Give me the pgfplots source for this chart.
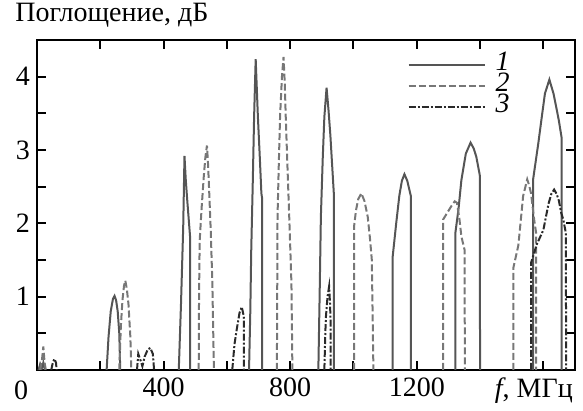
\documentclass[border=0pt]{standalone}
\usepackage{fontspec}
\setmainfont{Liberation Serif}
\usepackage{pgfplots}
\pgfplotsset{compat=1.18}
\definecolor{cone}{HTML}{555555}
\definecolor{ctwo}{HTML}{777777}
\definecolor{cthree}{HTML}{2A2A2A}

\begin{document}
\begin{tikzpicture}
\begin{axis}[
  name=main,
  scale only axis,
  width=269pt, height=165pt,
  xmin=0, xmax=1700, ymin=0, ymax=4.5,
  axis line style={line width=1pt},
  every tick/.style={black, line width=1pt},
  tick align=inside,
  major tick length=4.5pt, minor tick length=4.5pt,
  xtick={400,800,1200,1600},
  xticklabels={400,800,1200,{\hspace*{-9.5pt}\textit{f}, МГц}},
  minor xtick={200,600,1000,1400},
  ytick={1,2,3,4},
  yticklabels={1,2,3,4},
  minor ytick={0.5,1.5,2.5,3.5},
  tick label style={font=\fontsize{14}{16}\selectfont},
  xticklabel style={yshift=-0.5pt},
  legend style={draw=none, fill=none, at={(0.688,0.955)}, anchor=north west,
    font=\fontsize{14}{14}\selectfont, row sep=0.5pt, inner sep=0pt,
    nodes={inner sep=1pt, text height=6.5pt, text depth=1.5pt}},
  legend cell align=left,
  legend image code/.code={\draw[#1] (0pt,0pt) -- (38pt,0pt);},
  s1/.style={cone, line width=1pt},
  s2/.style={ctwo, line width=1pt, dash pattern=on 3.5pt off 1.5pt},
  s3/.style={cthree, line width=1pt, dash pattern=on 3.5pt off 1pt on 1pt off 1pt},
]
\addlegendimage{s1}
\addlegendentry{\hspace*{4pt}\textit{1}}
\addlegendimage{s2}
\addlegendentry{\hspace*{4pt}\textit{2}}
\addlegendimage{s3}
\addlegendentry{\hspace*{4pt}\textit{3}}

% curve 1
\addplot[s1, forget plot] coordinates {(5,0)(10,0.08)(15,0.02)(20,0.1)(25,0)};
\addplot[s1, forget plot] coordinates {(220,0)(226,0.45)(233,0.8)(240,0.97)(245,1.01)(250,0.95)(255,0.8)(260,0.5)(263,0)};
\addplot[s1, forget plot] coordinates {(448,0)(455,0.9)(462,1.95)(466,2.92)(470,2.6)(475,2.3)(484,1.8)(484,0)};
\addplot[s1, forget plot] coordinates {(670,0)(674,0.8)(677,1.64)(682,2.6)(686,3.45)(691,4.24)(698,3.45)(704,2.9)(709,2.41)(711,2.35)(711,0)};
\addplot[s1, forget plot] coordinates {(889,0)(893,1.0)(897,2.09)(903,2.9)(908,3.45)(915,3.85)(921,3.55)(927,3.2)(938,2.4)(938,0)};
\addplot[s1, forget plot] coordinates {(1124,0)(1124,1.55)(1135,2.0)(1145,2.38)(1153,2.58)(1161,2.67)(1170,2.58)(1177,2.45)(1181,2.38)(1181,0)};
\addplot[s1, forget plot] coordinates {(1322,0)(1322,1.87)(1332,2.2)(1341,2.59)(1355,2.95)(1370,3.1)(1380,3.02)(1388,2.91)(1399,2.66)(1400,0)};
\addplot[s1, forget plot] coordinates {(1568,0)(1568,2.61)(1584,3.09)(1595,3.45)(1605,3.77)(1619,3.96)(1632,3.77)(1640,3.6)(1649,3.4)(1658,3.16)(1658,0)};

% curve 2
\addplot[s2, forget plot] coordinates {(10,0)(16,0.15)(20,0.32)(24,0.1)(28,0)};
\addplot[s2, forget plot] coordinates {(260,0)(265,0.6)(270,0.95)(275,1.15)(279,1.22)(284,1.1)(289,0.9)(295,0.45)(298,0)};
\addplot[s2, forget plot] coordinates {(511,0)(512,1.0)(514,1.76)(520,2.2)(527,2.64)(532,2.9)(537,3.06)(540,2.85)(543,2.55)(549,1.9)(554,1.2)(559,0)};
\addplot[s2, forget plot] coordinates {(758,0)(759,1.0)(760,2.09)(764,2.8)(768,3.45)(774,4.0)(779,4.27)(783,3.9)(786,3.45)(792,2.7)(797,2.09)(804,1.18)(807,0)};
\addplot[s2, forget plot] coordinates {(1002,0)(1002,1.96)(1008,2.18)(1015,2.33)(1025,2.41)(1035,2.3)(1045,2.09)(1052,1.8)(1058,1.5)(1063,0)};
\addplot[s2, forget plot] coordinates {(1283,0)(1283,2.05)(1300,2.17)(1313,2.26)(1320,2.3)(1327,2.28)(1335,2.05)(1341,1.82)(1351,1.64)(1352,0)};
\addplot[s2, forget plot] coordinates {(1505,0)(1505,1.39)(1521,1.7)(1536,2.37)(1549,2.6)(1555,2.52)(1561,2.41)(1571,2.05)(1577,1.87)(1577,0)};

% curve 3
\addplot[s3, forget plot] coordinates {(45,0)(50,0.1)(55,0.15)(60,0.1)(62,0)};
\addplot[s3, forget plot] coordinates {(316,0)(320,0.22)(328,0.12)(333,0.05)(340,0.18)(350,0.28)(358,0.3)(366,0.22)(370,0)};
\addplot[s3, forget plot] coordinates {(617,0)(624,0.35)(631,0.55)(640,0.78)(647,0.86)(652,0.76)(654,0.7)(654,0)};
\addplot[s3, forget plot] coordinates {(908,0)(911,0.5)(913,0.73)(918,1.0)(923,1.14)(926,0.9)(928,0.6)(928,0)};
\addplot[s3, forget plot] coordinates {(1561,0)(1561,1.46)(1579,1.71)(1600,1.91)(1616,2.26)(1625,2.4)(1634,2.46)(1642,2.4)(1649,2.31)(1656,2.15)(1663,2.05)(1671,1.87)(1672,0)};
\end{axis}
\node[anchor=north, font=\fontsize{14}{16}\selectfont, inner sep=0pt] at ([xshift=-8pt, yshift=-5.2pt]main.south west) {0};
\node[anchor=base west, font=\fontsize{14}{16}\selectfont, inner sep=0pt] at ([xshift=-11pt, yshift=9pt]main.north west) {Поглощение, дБ};
\path ([xshift=-18.5pt, yshift=20pt]main.north west) -- ([xshift=4pt, yshift=-17.75pt]main.south east);
\end{tikzpicture}
\end{document}
